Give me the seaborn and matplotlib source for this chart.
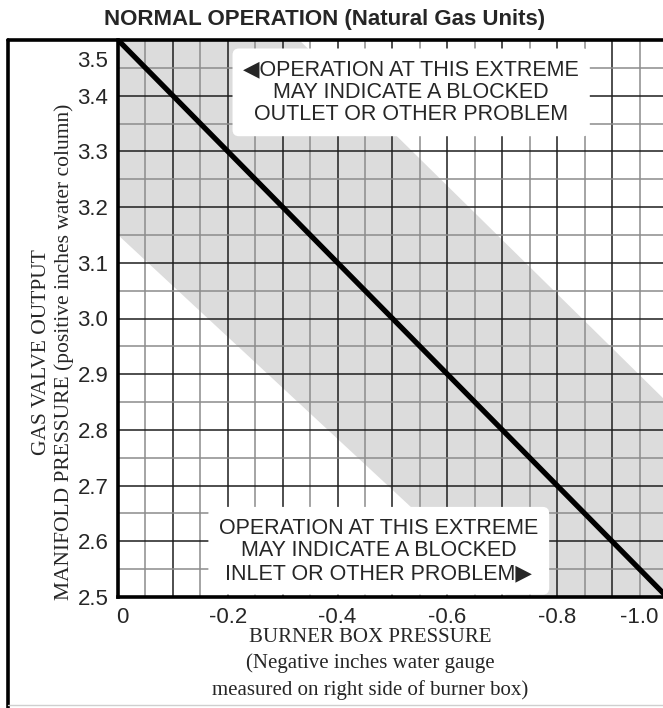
import numpy as np
import matplotlib.pyplot as plt
import matplotlib.transforms as mtransforms
from matplotlib.lines import Line2D
import seaborn as sns

# axis ticks
x_ticks = [0, -0.2, -0.4, -0.6, -0.8, -1.0]
x_labels = ["0", "-0.2", "-0.4", "-0.6", "-0.8", "-1.0"]
y_ticks = [2.5, 2.6, 2.7, 2.8, 2.9, 3.0, 3.1, 3.2, 3.3, 3.4, 3.5]
y_labels = ["2.5", "2.6", "2.7", "2.8", "2.9", "3.0", "3.1", "3.2", "3.3", "3.4", "3.5"]

# normal operation line
burner_box = [0, -1.0]
manifold = [3.5, 2.5]

# shaded normal band (polygon corners)
band_x = [0, 0, -0.33, -1.0, -1.0, -0.71]
band_y = [3.15, 3.5, 3.5, 2.85, 2.5, 2.5]

sns.set_style("white")
plt.rcParams['font.family'] = ['Liberation Sans', 'DejaVu Sans']

fig = plt.figure(figsize=(6.63, 7.08), dpi=100)
ax = fig.add_axes([118 / 663, 1 - 597 / 708, 549 / 663, 557 / 708])

ax.fill(band_x, band_y, color='#dcdcdc', lw=0, zorder=0)

# grid: dark every 0.1, gray every 0.05
for v in np.arange(-1.0, 0.001, 0.05):
    major = abs(round(v / 0.1) * 0.1 - v) < 1e-6
    ax.axvline(v, color='#1e1e1e' if major else '#8c8c8c', lw=1.1, zorder=1)
for v in np.arange(2.5, 3.501, 0.05):
    major = abs(round(v / 0.1) * 0.1 - v) < 1e-6
    ax.axhline(v, color='#1e1e1e' if major else '#8c8c8c', lw=1.1, zorder=1)

sns.lineplot(x=burner_box, y=manifold, ax=ax, color='black', lw=3.8, zorder=4)

ax.set_xlim(0, -1.0)
ax.set_ylim(2.5, 3.5)
ax.set_xticks(x_ticks)
ax.set_xticklabels(x_labels)
ax.set_yticks(y_ticks)
ax.set_yticklabels(y_labels)
ax.tick_params(length=0, labelsize=16, pad=7)
ax.set_xlabel("")
ax.set_ylabel("")

for side in ['top', 'right']:
    ax.spines[side].set_visible(False)
for side in ['left', 'bottom']:
    ax.spines[side].set_linewidth(2.6)
    ax.spines[side].set_color('black')
    ax.spines[side].set_zorder(5)

# nudge end labels inside the frame
lab = ax.get_yticklabels()[-1]
lab.set_transform(lab.get_transform() + mtransforms.ScaledTranslation(0, -0.19, fig.dpi_scale_trans))
lab = ax.get_xticklabels()[-1]
lab.set_transform(lab.get_transform() + mtransforms.ScaledTranslation(-0.28, 0, fig.dpi_scale_trans))
lab = ax.get_xticklabels()[0]
lab.set_transform(lab.get_transform() + mtransforms.ScaledTranslation(0.04, 0, fig.dpi_scale_trans))

box = dict(boxstyle='round,pad=0.5,rounding_size=0.3', fc='white', ec='none')
ax.text(0.534, 0.906, "\u25C0OPERATION AT THIS EXTREME\nMAY INDICATE A BLOCKED\nOUTLET OR OTHER PROBLEM",
        transform=ax.transAxes, ha='center', va='center', multialignment='center',
        fontsize=15.5, linespacing=1.1, bbox=box, zorder=6)
ax.text(0.475, 0.083, "OPERATION AT THIS EXTREME\nMAY INDICATE A BLOCKED\nINLET OR OTHER PROBLEM\u25B6",
        transform=ax.transAxes, ha='center', va='center', multialignment='center',
        fontsize=15.5, linespacing=1.1, bbox=box, zorder=6)

fig.text(325 / 663, 1 - 19 / 708, "NORMAL OPERATION (Natural Gas Units)",
         ha='center', va='center', fontsize=16, fontweight='bold')

serif = ['Liberation Serif', 'DejaVu Serif']
fig.text(53 / 663, 1 - 352 / 708,
         "GAS VALVE OUTPUT\nMANIFOLD PRESSURE (positive inches water column)",
         rotation=90, ha='center', va='center', multialignment='center',
         fontsize=15.5, family=serif, linespacing=1.2)
fig.text(370 / 663, 1 - 664 / 708,
         "BURNER BOX PRESSURE\n(Negative inches water gauge\nmeasured on right side of burner box)",
         ha='center', va='center', multialignment='center',
         fontsize=15, family=serif, linespacing=1.42)

# outer frame
fig.add_artist(Line2D([8 / 663, 8 / 663], [0, 1 - 40 / 708], color='black', lw=2.6))
fig.add_artist(Line2D([8 / 663, 1], [1 - 40 / 708, 1 - 40 / 708], color='black', lw=2.6))
fig.add_artist(Line2D([8 / 663, 1], [3 / 708, 3 / 708], color='#cfcfcf', lw=1.0))

fig.savefig("out.png", dpi=100)
